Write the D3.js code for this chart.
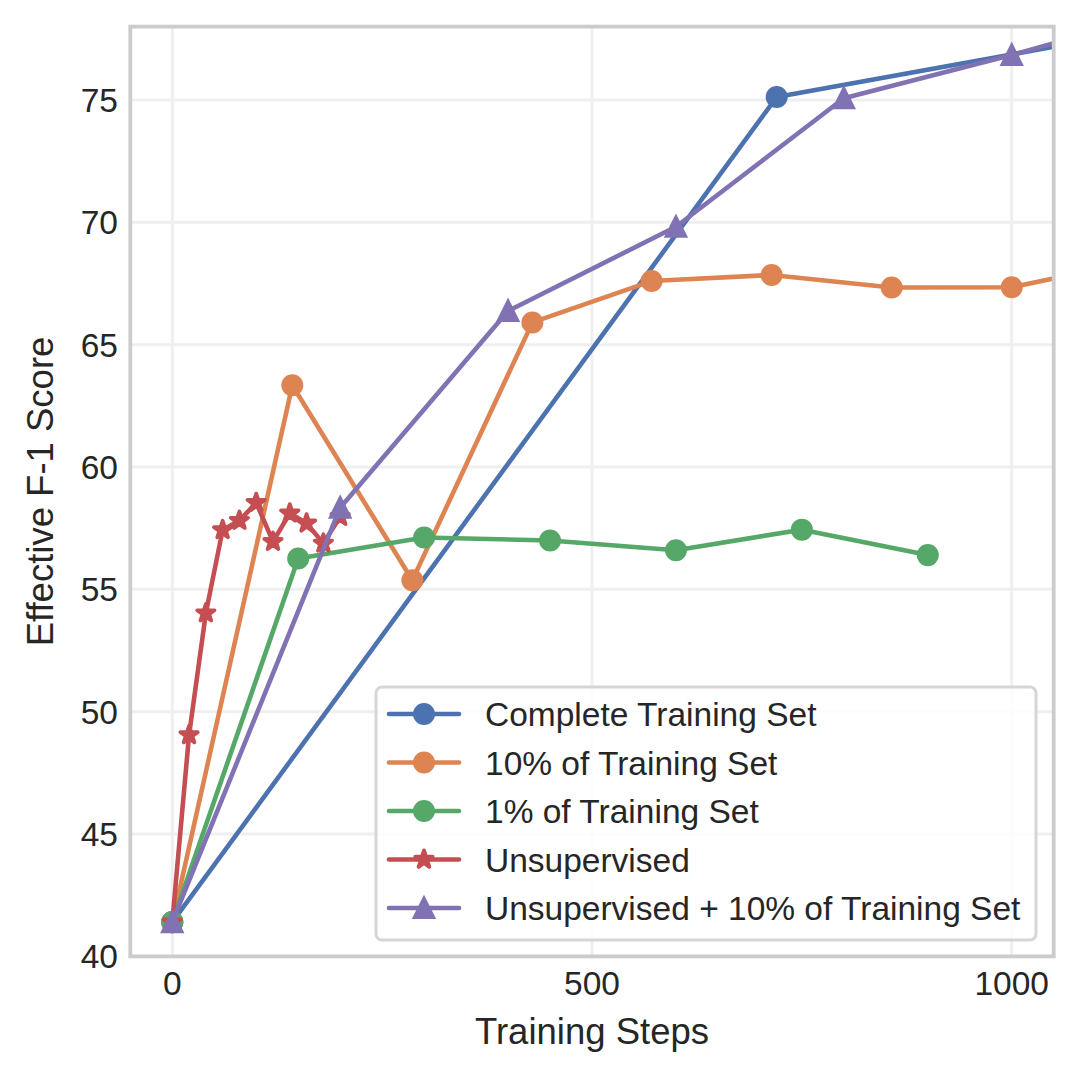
<!DOCTYPE html>
<html>
<head>
<meta charset="utf-8">
<script src="https://cdn.jsdelivr.net/npm/d3@7"></script>
<style>
  html, body { margin: 0; padding: 0; background: #fff; }
  text { font-family: "Liberation Sans", Arial, sans-serif; fill: #262626; }
</style>
</head>
<body>
<div id="chart"></div>
<script>
// Series
const seriesNames = [
    'Complete Training Set',
    '10% of Training Set',
    '1% of Training Set',
    'Unsupervised',
    'Unsupervised + 10% of Training Set'
];
const seriesColors = ['#4C72B0', '#DD8452', '#55A868', '#C44E52', '#8172B3'];
const seriesMarkers = ['circle', 'circle', 'circle', 'star', 'triangle'];

const completeSteps = [0, 720, 1440];
const completeScores = [41.4, 75.12, 79.6];

const tenPctSteps = [0, 143, 286, 429, 571, 714, 857, 1000, 1143];
const tenPctScores = [41.4, 63.34, 55.37, 65.91, 67.6, 67.85, 67.34, 67.35, 68.38];

const onePctSteps = [0, 150, 300, 450, 600, 750, 900];
const onePctScores = [41.4, 56.26, 57.12, 57.0, 56.6, 57.44, 56.4];

const unsupSteps = [0, 20, 40, 60, 80, 100, 120, 140, 160, 180, 200];
const unsupScores = [41.4, 49.05, 54.03, 57.43, 57.81, 58.54, 56.95, 58.11, 57.7, 56.88, 57.97];

const unsupTenSteps = [0, 200, 400, 600, 800, 1000, 1200];
const unsupTenScores = [41.4, 58.34, 66.38, 69.82, 75.07, 76.84, 78.76];

const xTicks = [0, 500, 1000];
const yTicks = [40, 45, 50, 55, 60, 65, 70, 75];

const allSteps = [completeSteps, tenPctSteps, onePctSteps, unsupSteps, unsupTenSteps];
const allScores = [completeScores, tenPctScores, onePctScores, unsupScores, unsupTenScores];

// Layout
const width = 1080, height = 1081;
const plot = {left: 130.3, right: 1053.7, top: 26.6, bottom: 956.4};

const svg = d3.select('#chart')
    .append('svg')
    .attr('width', width)
    .attr('height', height);

const x = d3.scaleLinear().domain([-50, 1050]).range([plot.left, plot.right]);
const y = d3.scaleLinear().domain([40, 78]).range([plot.bottom, plot.top]);

// marker sizes (matplotlib-like: size 6pt at ~219 dpi, edge 1.25pt)
const mSize = 18.25;
const mEdge = 3.8;
const lineW = 4.6;

function markerPath(kind, r) {
    if (kind === 'triangle') {
        return `M0,${-r}L${-r},${r}L${r},${r}Z`;
    }
    if (kind === 'star') {
        const inner = r * 0.381966;
        const pts = [];
        for (let i = 0; i < 10; i++) {
            const rad = i % 2 === 0 ? r : inner;
            const a = -Math.PI / 2 + i * Math.PI / 5;
            pts.push([rad * Math.cos(a), rad * Math.sin(a)]);
        }
        return 'M' + pts.map(p => p[0].toFixed(2) + ',' + p[1].toFixed(2)).join('L') + 'Z';
    }
    return d3.arc()({innerRadius: 0, outerRadius: r, startAngle: 0, endAngle: 2 * Math.PI});
}

// clip
svg.append('defs').append('clipPath')
    .attr('id', 'plotClip')
    .append('rect')
    .attr('x', plot.left)
    .attr('y', plot.top)
    .attr('width', plot.right - plot.left)
    .attr('height', plot.bottom - plot.top);

// Grid
const grid = svg.append('g').attr('class', 'grid');
grid.selectAll('.gx')
    .data(xTicks)
    .enter()
    .append('line')
    .attr('x1', d => x(d)).attr('x2', d => x(d))
    .attr('y1', plot.top).attr('y2', plot.bottom)
    .attr('stroke', '#efefef')
    .attr('stroke-width', 3);
grid.selectAll('.gy')
    .data(yTicks)
    .enter()
    .append('line')
    .attr('x1', plot.left).attr('x2', plot.right)
    .attr('y1', d => y(d)).attr('y2', d => y(d))
    .attr('stroke', '#efefef')
    .attr('stroke-width', 3);

// Lines and markers
const linesG = svg.append('g').attr('clip-path', 'url(#plotClip)');
const lineGen = d3.line().x(d => x(d[0])).y(d => y(d[1]));

seriesNames.forEach((name, i) => {
    const pts = allSteps[i].map((s, j) => [s, allScores[i][j]]);
    const g = linesG.append('g').attr('class', 'series');
    g.append('path')
        .datum(pts)
        .attr('d', lineGen)
        .attr('fill', 'none')
        .attr('stroke', seriesColors[i])
        .attr('stroke-width', lineW)
        .attr('stroke-linejoin', 'round')
        .attr('stroke-linecap', 'round');
    g.selectAll('.mk')
        .data(pts)
        .enter()
        .append('path')
        .attr('transform', d => `translate(${x(d[0])},${y(d[1])})`)
        .attr('d', markerPath(seriesMarkers[i], mSize / 2))
        .attr('fill', seriesColors[i])
        .attr('stroke', seriesColors[i])
        .attr('stroke-width', mEdge)
        .attr('stroke-linejoin', seriesMarkers[i] === 'star' ? 'round' : 'miter');
});

// Spines
svg.append('rect')
    .attr('x', plot.left)
    .attr('y', plot.top)
    .attr('width', plot.right - plot.left)
    .attr('height', plot.bottom - plot.top)
    .attr('fill', 'none')
    .attr('stroke', '#cccccc')
    .attr('stroke-width', 3.8);

// Tick labels
svg.selectAll('.xtick')
    .data(xTicks)
    .enter()
    .append('text')
    .attr('x', d => x(d))
    .attr('y', 995)
    .attr('text-anchor', 'middle')
    .style('font-size', '33.5px')
    .text(d => d);

svg.selectAll('.ytick')
    .data(yTicks)
    .enter()
    .append('text')
    .attr('x', 118)
    .attr('y', d => y(d) + 12)
    .attr('text-anchor', 'end')
    .style('font-size', '33.5px')
    .text(d => d);

// Axis labels
svg.append('text')
    .attr('x', (plot.left + plot.right) / 2)
    .attr('y', 1044)
    .attr('text-anchor', 'middle')
    .style('font-size', '36.5px')
    .text('Training Steps');

svg.append('text')
    .attr('transform', `translate(53,${(plot.top + plot.bottom) / 2}) rotate(-90)`)
    .attr('text-anchor', 'middle')
    .style('font-size', '36.5px')
    .text('Effective F-1 Score');

// Legend
const legend = svg.append('g').attr('class', 'legend');
legend.append('rect')
    .attr('x', 376)
    .attr('y', 687)
    .attr('width', 660)
    .attr('height', 253)
    .attr('rx', 6)
    .attr('fill', 'rgba(255,255,255,0.8)')
    .attr('stroke', '#d6d6d6')
    .attr('stroke-width', 3);

const rowY = d3.scaleLinear().domain([0, 4]).range([714, 908]);
seriesNames.forEach((name, i) => {
    const ry = rowY(i);
    legend.append('line')
        .attr('x1', 389).attr('x2', 459)
        .attr('y1', ry).attr('y2', ry)
        .attr('stroke', seriesColors[i])
        .attr('stroke-width', lineW)
        .attr('stroke-linecap', 'round');
    legend.append('path')
        .attr('transform', `translate(424,${ry})`)
        .attr('d', markerPath(seriesMarkers[i], mSize / 2))
        .attr('fill', seriesColors[i])
        .attr('stroke', seriesColors[i])
        .attr('stroke-width', mEdge)
        .attr('stroke-linejoin', seriesMarkers[i] === 'star' ? 'round' : 'miter');
    legend.append('text')
        .attr('x', 485)
        .attr('y', ry + 12)
        .style('font-size', '33.5px')
        .text(name);
});
</script>
</body>
</html>
